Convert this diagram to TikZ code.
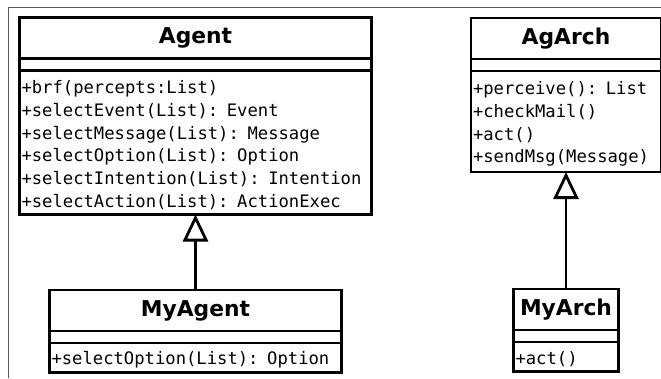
\documentclass[tikz,border=0pt]{standalone}
\usepackage{fontspec}
\setmainfont{DejaVu Sans}
\setmonofont{DejaVu Sans Mono}
\usepackage{tikz}
\usetikzlibrary{arrows.meta, positioning}
\tikzset{
	classname/.style={rectangle, draw, line width=2.8pt, outer sep=0pt,
		minimum height=41pt, inner sep=0pt, font=\fontsize{21.8}{25}\selectfont\bfseries},
	classgap/.style={rectangle, draw, line width=2.8pt, outer sep=0pt,
		minimum height=12pt, inner sep=0pt},
	classops/.style={rectangle, draw, line width=2.8pt, outer sep=0pt,
		align=left, inner xsep=2pt, inner ysep=0pt,
		font=\fontsize{17.2}{22.7}\selectfont\ttfamily,
		execute at begin node={\rule{0pt}{18pt}}},
	inherit/.style={-{Triangle[open, length=27pt, width=25pt]}, line width=2.8pt},
	frame/.style={draw=black!65, line width=0.9pt},
}

\begin{document}
\begin{tikzpicture}[x=1pt, y=-1pt]
	\useasboundingbox (0,0) rectangle (661,378);
	\draw[frame] (661,7) -- (8.5,7) -- (8.5,378);

	% Agent
	\node[classname, minimum width=352pt, anchor=north] (agent) at (195.5,17.5) {Agent};
	\node[classgap, minimum width=352pt, below=0pt of agent] (agentgap) {};
	\node[classops, text width=348pt, minimum height=144pt, below=0pt of agentgap] (agentops) {
		+brf(percepts:List)\\
		+selectEvent(List): Event\\
		+selectMessage(List): Message\\
		+selectOption(List): Option\\
		+selectIntention(List): Intention\\
		+selectAction(List): ActionExec
	};

	% AgArch
	\node[classname, minimum width=190pt, anchor=north] (agarch) at (566,18) {AgArch};
	\node[classgap, minimum width=190pt, below=0pt of agarch] (agarchgap) {};
	\node[classops, text width=186pt, minimum height=101pt, below=0pt of agarchgap] (agarchops) {
		+perceive(): List\\
		+checkMail()\\
		+act()\\
		+sendMsg(Message)
	};

	% MyAgent
	\node[classname, minimum width=292pt, anchor=north] (myagent) at (195.5,290) {MyAgent};
	\node[classgap, minimum width=292pt, below=0pt of myagent] (myagentgap) {};
	\node[classops, text width=288pt, minimum height=29.5pt, below=0pt of myagentgap] (myagentops) {
		+selectOption(List): Option
	};

	% MyArch
	\node[classname, minimum width=105pt, anchor=north] (myarch) at (566,289) {MyArch};
	\node[classgap, minimum width=105pt, below=0pt of myarch] (myarchgap) {};
	\node[classops, text width=101pt, minimum height=29.5pt, below=0pt of myarchgap] (myarchops) {
		+act()
	};

	\draw[inherit] (myagent.north) -- (agentops.south);
	\draw[inherit] (myarch.north) -- (agarchops.south);
\end{tikzpicture}
\end{document}
